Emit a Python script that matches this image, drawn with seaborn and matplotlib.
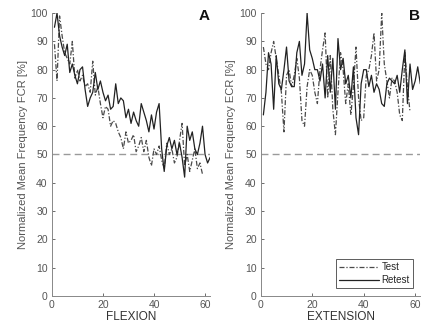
import pandas as pd
import matplotlib
matplotlib.use("Agg")
import matplotlib.pyplot as plt
import seaborn as sns

# Normalized mean frequency (%) per contraction
flex_retest = [95, 100, 92, 88, 85, 89, 79, 82, 78, 75, 80, 81, 73, 67, 70, 72, 79, 73, 76, 72,
               69, 71, 66, 67, 75, 68, 70, 69, 63, 66, 61, 65, 62, 60, 68, 65, 62, 58, 64, 59,
               65, 68, 52, 44, 53, 56, 52, 55, 50, 54, 49, 42, 60, 55, 58, 52, 50, 54, 60, 50,
               47, 49]
flex_test = [89, 76, 99, 92, 86, 84, 82, 90, 77, 80, 76, 78, 74, 75, 72, 83, 71, 74, 68, 63,
             67, 66, 60, 62, 61, 58, 56, 52, 58, 54, 55, 57, 51, 53, 56, 51, 55, 49, 46, 52,
             50, 53, 48, 45, 54, 50, 52, 47, 49, 55, 61, 46, 50, 44, 48, 52, 45, 47, 43]
ext_retest = [64, 72, 86, 82, 66, 85, 75, 73, 80, 88, 76, 74, 74, 86, 90, 78, 82, 100, 87, 84,
              80, 80, 76, 82, 70, 85, 72, 84, 66, 91, 80, 84, 75, 78, 70, 81, 63, 57, 75, 80,
              80, 74, 78, 72, 75, 73, 68, 67, 75, 77, 76, 75, 78, 72, 80, 87, 68, 82, 73, 76,
              81, 75]
ext_test = [88, 82, 80, 86, 90, 84, 78, 72, 58, 78, 80, 74, 78, 84, 77, 62, 60, 74, 80, 78,
            72, 68, 80, 87, 93, 70, 85, 66, 57, 72, 86, 80, 68, 75, 64, 74, 88, 70, 62, 63,
            78, 80, 85, 93, 76, 80, 100, 82, 76, 70, 77, 76, 72, 64, 62, 86, 74, 65]

panels = [
    ("FLEXION", "Normalized Mean Frequency FCR [%]", "A", flex_test, flex_retest),
    ("EXTENSION", "Normalized Mean Frequency ECR [%]", "B", ext_test, ext_retest),
]

sns.set_style("ticks")
plt.rcParams["font.family"] = ["Liberation Sans", "DejaVu Sans"]

fig = plt.figure(figsize=(4.22, 3.28), dpi=100)
positions = [[0.123, 0.098, 0.375, 0.862], [0.618, 0.098, 0.378, 0.862]]
gray = "#555555"

for pos, (xlab, ylab, letter, test, retest) in zip(positions, panels):
    ax = fig.add_axes(pos)
    df_t = pd.DataFrame({"x": range(1, len(test) + 1), "y": test})
    df_r = pd.DataFrame({"x": range(1, len(retest) + 1), "y": retest})
    ax.axhline(50, color="#9a9a9a", lw=1.0, ls=(0, (5, 3)), zorder=1)
    sns.lineplot(data=df_t, x="x", y="y", ax=ax, color="#4a4a4a", lw=0.9,
                 ls=(0, (4, 1.5, 1, 1.5)), label="Test")
    sns.lineplot(data=df_r, x="x", y="y", ax=ax, color="#222222", lw=0.9, label="Retest")
    ax.set_xlim(0, 62)
    ax.set_ylim(0, 100)
    ax.set_xticks([0, 20, 40, 60])
    ax.set_yticks(range(0, 101, 10))
    ax.set_xlabel(xlab, fontsize=8.5, color="#333333", labelpad=1)
    ax.set_ylabel(ylab, fontsize=8, color="#555555", labelpad=2)
    ax.tick_params(direction="in", length=2.5, width=0.6, labelsize=7.5,
                   colors=gray, labelcolor=gray, pad=3)
    for s in ["top", "right"]:
        ax.spines[s].set_visible(False)
    for s in ["left", "bottom"]:
        ax.spines[s].set_color("#888888")
        ax.spines[s].set_linewidth(0.7)
    ax.text(61.8, 99, letter, fontsize=11, fontweight="bold", ha="right", va="center",
            color="#111111")
    if letter == "B":
        leg = ax.legend(loc="lower right", fontsize=7, frameon=True, fancybox=False,
                        handlelength=4.2, borderpad=0.3, labelspacing=0.3,
                        handletextpad=0.2, borderaxespad=0.8)
        leg.get_frame().set_edgecolor("#333333")
        leg.get_frame().set_linewidth(0.7)
    else:
        ax.get_legend().remove()

fig.savefig("out.png", dpi=100)
